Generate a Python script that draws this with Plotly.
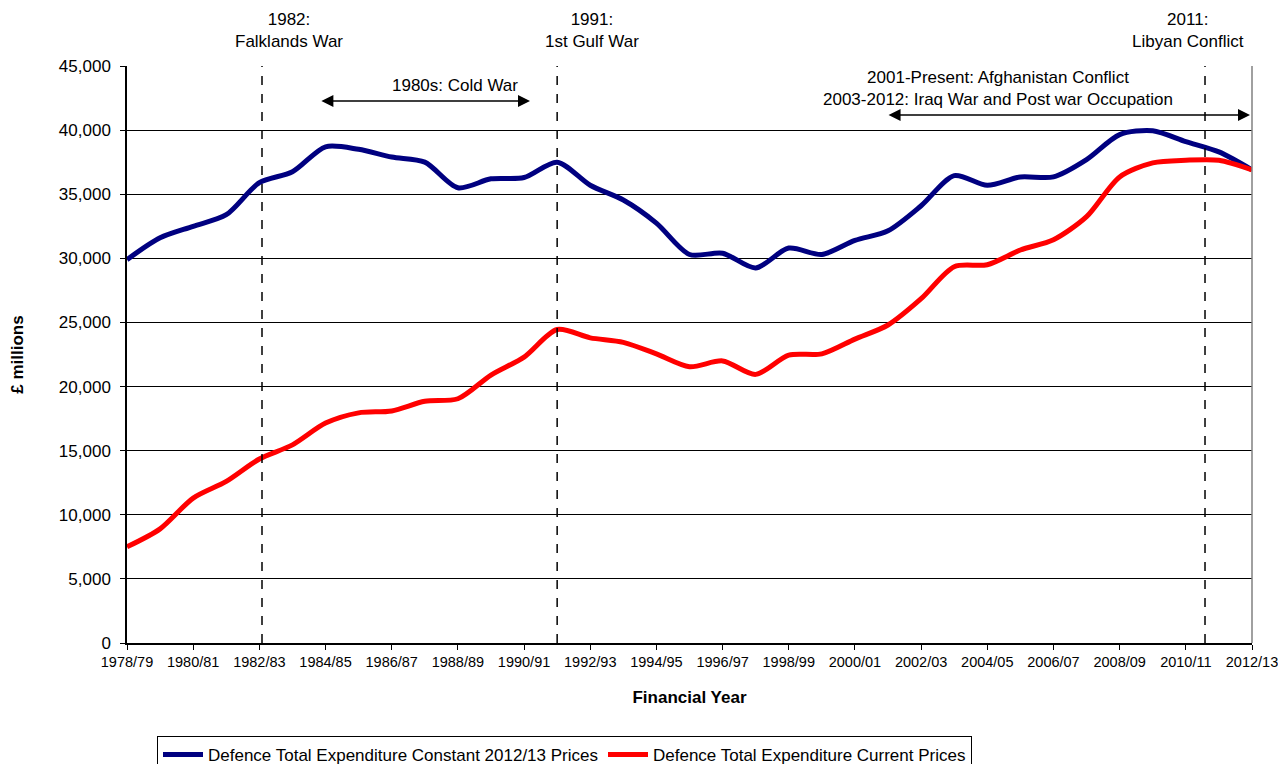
import plotly.graph_objects as go

years = ["1978/79", "1979/80", "1980/81", "1981/82", "1982/83", "1983/84", "1984/85",
         "1985/86", "1986/87", "1987/88", "1988/89", "1989/90", "1990/91", "1991/92",
         "1992/93", "1993/94", "1994/95", "1995/96", "1996/97", "1997/98", "1998/99",
         "1999/00", "2000/01", "2001/02", "2002/03", "2003/04", "2004/05", "2005/06",
         "2006/07", "2007/08", "2008/09", "2009/10", "2010/11", "2011/12", "2012/13"]

constant_prices = [29900, 31600, 32500, 33400, 35900, 36750, 38700, 38500, 37900, 37500,
                   35500, 36200, 36300, 37500, 35700, 34550, 32750, 30300, 30400, 29250,
                   30800, 30300, 31400, 32150, 34100, 36450, 35700, 36350, 36350, 37700,
                   39650, 39950, 39100, 38300, 36900]

current_prices = [7500, 8900, 11300, 12600, 14350, 15450, 17150, 17950, 18100, 18850,
                  19050, 20900, 22300, 24450, 23800, 23450, 22550, 21550, 22000, 20950,
                  22450, 22550, 23700, 24800, 26850, 29350, 29500, 30650, 31450, 33250,
                  36350, 37450, 37650, 37650, 36900]

tick_years = years[::2]

FONT = "Liberation Sans, Arial, sans-serif"
FS = 17
OFF = 8  # page body margin in the browser
W, H = 1286 - OFF, 764 - OFF

fig = go.Figure()
fig.add_trace(go.Scatter(x=years, y=constant_prices, mode="lines",
                         name="Defence Total Expenditure Constant 2012/13 Prices",
                         line=dict(color="#000080", width=5, shape="spline", smoothing=0.8)))
fig.add_trace(go.Scatter(x=years, y=current_prices, mode="lines",
                         name="Defence Total Expenditure Current Prices",
                         line=dict(color="#FF0000", width=5, shape="spline", smoothing=0.8)))

# event markers (dashed lines) with labels above the plot
events = [(4.08, 4.9, "1982:<br>Falklands War"),
          (13.0, 14.05, "1991:<br>1st Gulf War"),
          (32.58, 32.07, "2011:<br>Libyan Conflict")]
for xline, xtext, label in events:
    fig.add_shape(type="line", xref="x", yref="paper", x0=xline, x1=xline, y0=0, y1=1,
                  line=dict(color="black", width=1.5, dash="dash"))
    fig.add_annotation(x=xtext, xref="x", y=1.0607, yref="paper", text=label,
                       showarrow=False, font=dict(size=FS, color="black"), yanchor="middle")

# period arrows
fig.add_annotation(x=9.91, y=43500, text="1980s: Cold War", showarrow=False,
                   font=dict(size=FS, color="black"))
fig.add_annotation(x=12.18, y=42270, ax=5.83, ay=42270, axref="x", ayref="y", text="",
                   showarrow=True, arrowhead=2, arrowside="end+start", arrowsize=1.6,
                   arrowwidth=1.5, arrowcolor="black")
fig.add_annotation(x=26.32, y=43280,
                   text="2001-Present: Afghanistan Conflict<br>2003-2012: Iraq War and Post war Occupation",
                   showarrow=False, font=dict(size=FS, color="black"))
fig.add_annotation(x=33.94, y=41180, ax=22.97, ay=41180, axref="x", ayref="y", text="",
                   showarrow=True, arrowhead=2, arrowside="end+start", arrowsize=1.6,
                   arrowwidth=1.5, arrowcolor="black")

# plot area border on the right
fig.add_shape(type="line", xref="paper", yref="paper", x0=1, x1=1, y0=0, y1=1,
              line=dict(color="#808080", width=1.5))

fig.update_layout(
    width=W, height=H,
    margin=dict(l=127 - OFF, r=W - (1252 - OFF), t=66 - OFF, b=H - (643 - OFF),
                autoexpand=False),
    paper_bgcolor="white", plot_bgcolor="white",
    font=dict(family=FONT, size=FS, color="black"),
    showlegend=True,
    legend=dict(orientation="h", xref="container", x=(157 - OFF) / W, xanchor="left",
                yref="container", y=(H - (736 - OFF)) / H, yanchor="top",
                bordercolor="black", borderwidth=1, font=dict(size=FS),
                itemwidth=40, tracegroupgap=0),
    xaxis=dict(type="category", range=[0, 34], tickvals=tick_years, ticktext=tick_years,
               automargin=False,
               showgrid=False, showline=True, linecolor="black", linewidth=1.5,
               ticks="outside", ticklen=5, tickcolor="black",
               tickfont=dict(size=14.5),
               title=dict(text="<b>Financial Year</b>", font=dict(size=FS), standoff=22)),
    yaxis=dict(range=[0, 45000], dtick=5000, tickformat=",", automargin=False,
               showgrid=True, gridcolor="black", gridwidth=1,
               showline=True, linecolor="black", linewidth=1.5,
               ticks="outside", ticklen=5, tickcolor="black", ticklabelstandoff=6,
               tickfont=dict(size=FS), zeroline=False,
               title=dict(text="<b>£ millions</b>", font=dict(size=FS), standoff=40)),
)

fig.write_html("out.html")
